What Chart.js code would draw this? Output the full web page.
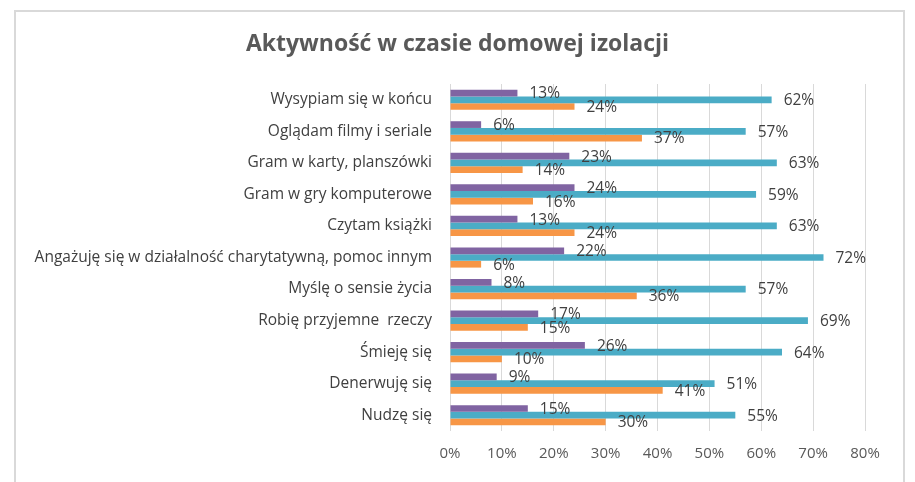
<!DOCTYPE html>
<html>
<head>
<meta charset="utf-8">
<script src="https://cdn.jsdelivr.net/npm/chart.js@4"></script>
<style>
    html, body { margin: 0; padding: 0; background: #fff; overflow: hidden; }
    #frame { position: absolute; left: 14px; top: 10px; width: 887px; height: 520px; border: 2px solid #d9d9d9; }
    #wrap { position: absolute; left: 0; top: 0; width: 915px; height: 482px; }
</style>
</head>
<body>
<div id="frame"></div>
<div id="wrap"><canvas id="activityChart"></canvas></div>
<script>
const chartTitle = "Aktywność w czasie domowej izolacji";
const categories = [
    "Wysypiam się w końcu",
    "Oglądam filmy i seriale",
    "Gram w karty, planszówki",
    "Gram w gry komputerowe",
    "Czytam książki",
    "Angażuję się w działalność charytatywną, pomoc innym",
    "Myślę o sensie życia",
    "Robię przyjemne  rzeczy",
    "Śmieję się",
    "Denerwuję się",
    "Nudzę się"
];
const purpleValues = [13, 6, 23, 24, 13, 22, 8, 17, 26, 9, 15];
const tealValues = [62, 57, 63, 59, 63, 72, 57, 69, 64, 51, 55];
const orangeValues = [24, 37, 14, 16, 24, 6, 36, 15, 10, 41, 30];
const xTicks = [0, 10, 20, 30, 40, 50, 60, 70, 80];

const fontFamily = "'Open Sans', 'DejaVu Sans', sans-serif";

// title centred on the whole canvas (not just the plot area)
const pageTitle = {
    id: "pageTitle",
    afterDraw(chart) {
        const ctx = chart.ctx;
        ctx.save();
        ctx.font = "bold 23px " + fontFamily;
        ctx.fillStyle = "#595959";
        ctx.textAlign = "center";
        ctx.textBaseline = "middle";
        ctx.fillText(chartTitle, chart.width / 2, 44);
        ctx.restore();
    }
};

// draws the "NN%" labels right after each bar end
const barLabels = {
    id: "barLabels",
    afterDatasetsDraw(chart) {
        const ctx = chart.ctx;
        ctx.save();
        ctx.font = "15.5px " + fontFamily;
        ctx.fillStyle = "#404040";
        ctx.textAlign = "left";
        ctx.textBaseline = "middle";
        chart.data.datasets.forEach((ds, i) => {
            const meta = chart.getDatasetMeta(i);
            meta.data.forEach((bar, j) => {
                ctx.fillText(ds.data[j] + "%", bar.x + 12, bar.y + 1);
            });
        });
        ctx.restore();
    }
};

const ctx = document.getElementById("activityChart").getContext("2d");
new Chart(ctx, {
    type: "bar",
    data: {
        labels: categories,
        datasets: [
            { label: "a", data: purpleValues, backgroundColor: "#8064a2" },
            { label: "b", data: tealValues, backgroundColor: "#4bacc6" },
            { label: "c", data: orangeValues, backgroundColor: "#f79646" }
        ]
    },
    options: {
        indexAxis: "y",
        responsive: true,
        maintainAspectRatio: false,
        animation: false,
        datasets: { bar: { barPercentage: 1, categoryPercentage: 0.64 } },
        layout: { padding: { left: 0, right: 50, top: 84, bottom: 0 } },
        scales: {
            x: {
                min: 0,
                max: 80,
                afterBuildTicks(scale) { scale.ticks = xTicks.map(v => ({ value: v })); },
                afterFit(scale) { scale.height = 51; },
                ticks: {
                    callback: v => v + "%",
                    color: "#595959",
                    font: { family: fontFamily, size: 15 },
                    padding: 14,
                    maxRotation: 0
                },
                grid: { color: "#d9d9d9", drawTicks: false, lineWidth: 1 },
                border: { display: false }
            },
            y: {
                afterFit(scale) { scale.width = 450; },
                ticks: {
                    color: "#404040",
                    font: { family: fontFamily, size: 15.5 },
                    padding: 18
                },
                grid: { display: false, drawTicks: false },
                border: { display: false }
            }
        },
        plugins: {
            legend: { display: false },
            tooltip: { enabled: false },
            title: { display: false }
        }
    },
    plugins: [barLabels, pageTitle]
});
</script>
</body>
</html>
